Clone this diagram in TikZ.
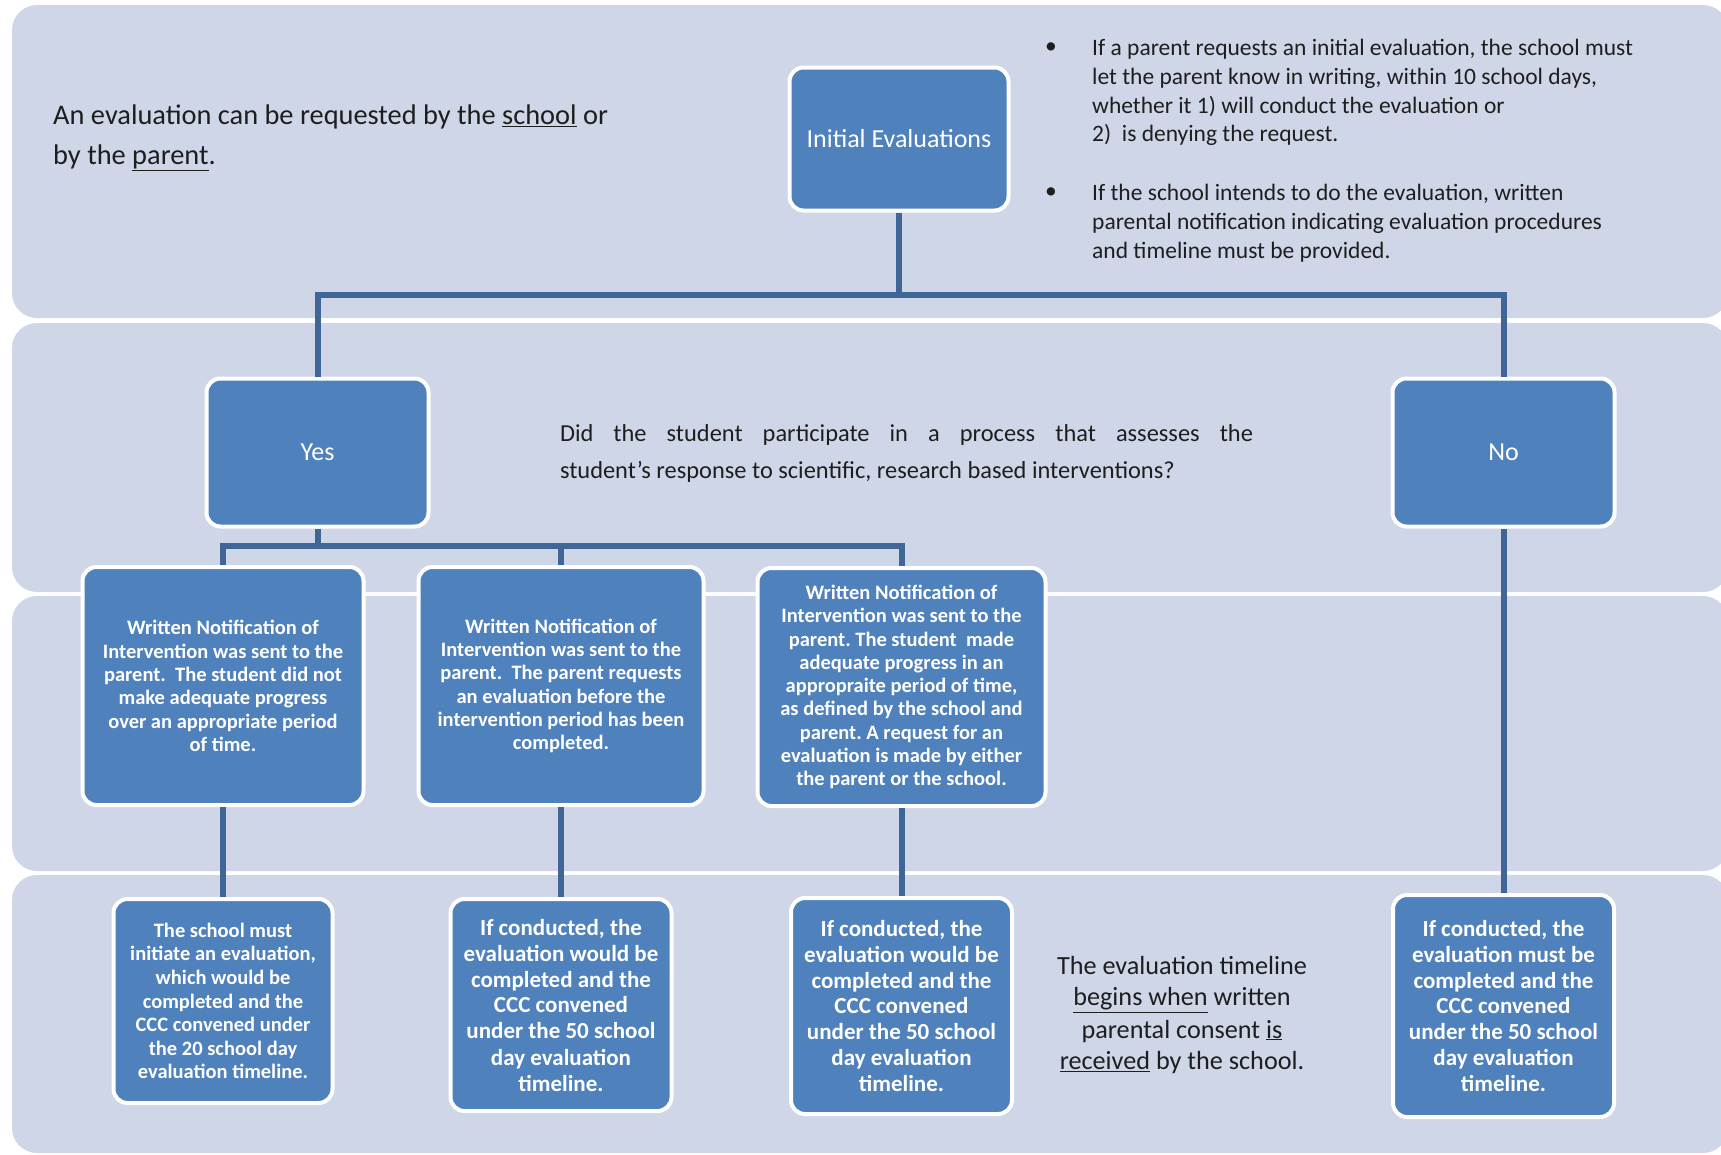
\documentclass[tikz,border=0pt]{standalone}
\usepackage{fontspec}
\setmainfont{Carlito}
\frenchspacing
\definecolor{bandfill}{RGB}{207,214,232}
\definecolor{boxfill}{RGB}{79,129,189}
\definecolor{linkcol}{RGB}{64,102,152}
\definecolor{inkcol}{RGB}{30,30,30}

\begin{document}
\begin{tikzpicture}[x=1pt,y=-1pt,
    band/.style={fill=bandfill,rounded corners=25pt},
    box/.style={rectangle,rounded corners=14pt,fill=boxfill,draw=white,line width=4pt,
      text=white,align=center,inner sep=0pt},
    head/.style={box,font=\fontsize{26}{31}\selectfont},
    note/.style={box,minimum height=238pt,font=\fontsize{20.5}{23.3}\selectfont\bfseries},
    outcome/.style={box,minimum width=221pt,font=\fontsize{23}{26}\selectfont\bfseries},
    link/.style={draw=linkcol,line width=6pt},
    prose/.style={text=inkcol,inner sep=0pt}]
  \useasboundingbox (0,0) rectangle (1721,1154);
  \path[band] (12,5) rectangle (1728,318);
  \path[band] (12,323) rectangle (1728,592);
  \path[band] (12,596) rectangle (1728,871);
  \path[band] (12,875) rectangle (1728,1153);

  \node[head,minimum width=219pt,minimum height=143pt] (init) at (899,139) {Initial Evaluations};
  \node[head,minimum width=222pt,minimum height=148pt] (yes) at (317.5,452.5) {Yes};
  \node[head,minimum width=222pt,minimum height=148pt] (no) at (1503.5,452.5) {No};

  \node[note,minimum width=281pt] (wa) at (223,686)
    {Written Notification of\\Intervention was sent to the\\parent.\ \ The student did not\\make adequate progress\\over an appropriate period\\of time.};
  \node[note,minimum width=285pt] (wb) at (561,686)
    {Written Notification of\\Intervention was sent to the\\parent.\ \ The parent requests\\an evaluation before the\\intervention period has been\\completed.};
  \node[note,minimum width=288pt] (wc) at (901.5,687)
    {Written Notification of\\Intervention was sent to the\\parent. The student\ \ made\\adequate progress in an\\appropraite period of time,\\as defined by the school and\\parent. A request for an\\evaluation is made by either\\the parent or the school.};

  \node[outcome,minimum width=219pt,minimum height=204pt,font=\fontsize{20.5}{23.6}\selectfont\bfseries] (oa) at (223,1001)
    {The school must\\initiate an evaluation,\\which would be\\completed and the\\CCC convened under\\the 20 school day\\evaluation timeline.};
  \node[outcome,minimum height=212pt] (ob) at (561,1005)
    {If conducted, the\\evaluation would be\\completed and the\\CCC convened\\under the 50 school\\day evaluation\\timeline.};
  \node[outcome,minimum height=216pt] (oc) at (901.5,1006)
    {If conducted, the\\evaluation would be\\completed and the\\CCC convened\\under the 50 school\\day evaluation\\timeline.};
  \node[outcome,minimum height=222pt] (on) at (1503.5,1006)
    {If conducted, the\\evaluation must be\\completed and the\\CCC convened\\under the 50 school\\day evaluation\\timeline.};

  \coordinate (split) at (899,295);
  \coordinate (fork) at (317.5,546);
  \draw[link] (init.south) -- (split);
  \draw[link] (yes.north) |- (split) -| (no.north);
  \draw[link] (yes.south) -- (fork);
  \draw[link] (wa.north) |- (fork) -| (wc.north);
  \draw[link] (wb.north) -- (wb.north |- fork);
  \draw[link] (wa.south) -- (oa.north);
  \draw[link] (wb.south) -- (ob.north);
  \draw[link] (wc.south) -- (oc.north);
  \draw[link] (no.south) -- (on.north);

  \node[prose,anchor=west,align=left,font=\fontsize{28.4}{39.6}\selectfont] (req) at (53,138)
    {An evaluation can be requested by the \underline{school} or\\by the \underline{parent}.};
  \node[prose,font=\fontsize{23.5}{28.9}\selectfont] (dot1) at (1051,48) {•};
  \node[prose,anchor=west,align=left,font=\fontsize{23.5}{28.9}\selectfont] (rule1) at (1092,92.5)
    {If a parent requests an initial evaluation, the school must\\let the parent know in writing, within 10 school days,\\whether it 1) will conduct the evaluation or\\2)\ \ is denying the request.};
  \node[prose,font=\fontsize{23.5}{28.9}\selectfont] (dot2) at (1051,193) {•};
  \node[prose,anchor=west,align=left,font=\fontsize{23.5}{28.9}\selectfont] (rule2) at (1092,223)
    {If the school intends to do the evaluation, written\\parental notification indicating evaluation procedures\\and timeline must be provided.};
  \node[prose,text width=693pt,align=justify,font=\fontsize{24.4}{37}\selectfont] (ask) at (906.5,453)
    {Did the student participate in a process that assesses the\linebreak student’s response to scientific, research based interventions?};
  \node[prose,align=center,font=\fontsize{26.2}{32}\selectfont] (clock) at (1182,1015)
    {The evaluation timeline\\\underline{begins when} written\\parental consent \underline{is}\\\underline{received} by the school.};
\end{tikzpicture}
\end{document}
